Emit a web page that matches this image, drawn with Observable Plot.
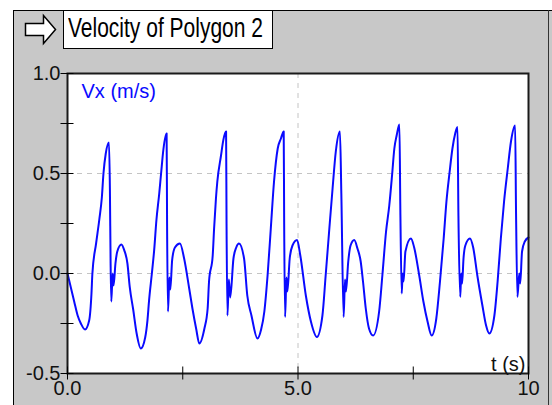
<!DOCTYPE html>
<html>
<head>
<meta charset="utf-8">
<script src="https://cdn.jsdelivr.net/npm/d3@7"></script>
<script src="https://cdn.jsdelivr.net/npm/@observablehq/plot@0.6"></script>
<style>
  html, body { margin: 0; padding: 0; background: #ffffff; }
  #wrap { position: relative; width: 552px; height: 405px; overflow: hidden; font-family: "Liberation Sans", Arial, sans-serif; }
  #panel { position: absolute; left: 13px; top: 10px; width: 539px; height: 400px; background: #c8c8c8;
           border-left: 1px solid #000; border-top: 1px solid #000; box-sizing: border-box; }
  #rline { position: absolute; left: 548px; top: 10px; width: 1px; height: 400px; background: #333; }
  #chart { position: absolute; left: 0; top: 0; }
  #title { position: absolute; left: 63px; top: 10px; width: 210px; height: 39px; box-sizing: border-box;
           background: #fff; border: 1px solid #000; font-size: 21px; line-height: 36px; padding-left: 4px;
           color: #000; white-space: nowrap; }
  #title span { display: inline-block; transform: scaleY(1.28); transform-origin: 50% 55%; }
  #icon { position: absolute; left: 0; top: 0; }
</style>
</head>
<body>
<div id="wrap">
  <div id="panel"></div>
  <div id="rline"></div>
  <div id="chart"></div>
  <svg id="icon" width="62" height="50">
    <polygon points="25.5,23.5 43.5,23.5 43.5,15.5 55.5,29.5 43.5,43.5 43.5,35.5 25.5,35.5" fill="#fff" stroke="#000" stroke-width="1.5"/>
  </svg>
  <div id="title"><span>Velocity of Polygon 2</span></div>
</div>
<script>
// Time samples (s)
const time = [
  0.00, 0.145, 0.22, 0.29, 0.38, 0.47, 0.52, 0.54, 0.62, 0.69, 0.745, 0.78, 0.83, 0.90,
  0.92, 0.935, 0.95, 0.98, 1.00, 1.04, 1.08, 1.17, 1.23, 1.30, 1.35, 1.425, 1.50, 1.59,
  1.685, 1.735, 1.77, 1.83, 1.88, 1.93, 1.99, 2.03, 2.08, 2.15,
  2.16, 2.18, 2.21, 2.23, 2.27, 2.33, 2.44, 2.53, 2.64, 2.71, 2.79, 2.86,
  2.97, 3.04, 3.07, 3.15, 3.18, 3.22, 3.25, 3.33, 3.38, 3.44,
  3.45, 3.47, 3.50, 3.53, 3.60, 3.66, 3.72, 3.83, 3.90, 3.99, 4.12,
  4.20, 4.27, 4.34, 4.41, 4.48, 4.56, 4.63, 4.69,
  4.70, 4.72, 4.75, 4.77, 4.82, 4.88, 4.98, 5.05, 5.17, 5.28, 5.41,
  5.53, 5.60, 5.68, 5.75, 5.82, 5.91,
  5.94, 5.99, 6.02, 6.04, 6.09, 6.14, 6.22, 6.29, 6.36, 6.41, 6.47, 6.54, 6.63,
  6.76, 6.83, 6.91, 6.98, 7.04, 7.09, 7.14, 7.20,
  7.22, 7.25, 7.27, 7.29, 7.33, 7.45, 7.52, 7.63, 7.72, 7.81, 7.90,
  8.00, 8.08, 8.16, 8.22, 8.29, 8.35, 8.41, 8.46,
  8.48, 8.52, 8.54, 8.56, 8.59, 8.63, 8.73, 8.80, 8.89, 9.00, 9.08, 9.15,
  9.26, 9.33, 9.40, 9.47, 9.55, 9.62, 9.71,
  9.73, 9.76, 9.80, 9.82, 9.86, 9.92, 10.00
];
// Vx (m/s) at those times
const vx = [
  0.00, -0.14, -0.21, -0.25, -0.28, -0.235, -0.10, 0.00, 0.15, 0.27, 0.38, 0.50, 0.60, 0.655,
  0.42, 0.05, -0.14, 0.00, -0.06, 0.05, 0.11, 0.145, 0.117, 0.05, -0.067, -0.18, -0.30, -0.375,
  -0.32, -0.233, -0.133, 0.00, 0.117, 0.27, 0.40, 0.50, 0.62, 0.70,
  0.25, -0.19, -0.02, -0.08, 0.067, 0.13, 0.15, 0.075, -0.075, -0.175, -0.275, -0.35,
  -0.275, -0.175, -0.04, 0.09, 0.225, 0.375, 0.46, 0.59, 0.667, 0.71,
  0.25, -0.21, -0.03, -0.12, 0.075, 0.13, 0.15, 0.075, -0.11, -0.21, -0.325,
  -0.28, -0.19, -0.01, 0.225, 0.46, 0.625, 0.675, 0.71,
  0.25, -0.217, -0.02, -0.09, 0.075, 0.14, 0.167, 0.09, -0.11, -0.24, -0.317,
  -0.21, -0.01, 0.225, 0.425, 0.61, 0.71,
  0.40, -0.217, -0.03, -0.09, 0.06, 0.14, 0.167, 0.125, 0.06, -0.04, -0.175, -0.275, -0.31,
  -0.19, -0.01, 0.21, 0.34, 0.49, 0.625, 0.69, 0.745,
  0.317, -0.10, 0.00, -0.04, 0.11, 0.175, 0.13, -0.01, -0.14, -0.24, -0.31,
  -0.225, -0.04, 0.175, 0.36, 0.51, 0.625, 0.70, 0.733,
  0.29, -0.117, 0.00, -0.05, 0.075, 0.14, 0.175, 0.13, -0.01, -0.16, -0.26, -0.30,
  -0.21, -0.04, 0.175, 0.36, 0.525, 0.66, 0.74,
  0.30, -0.117, 0.00, -0.05, 0.11, 0.16, 0.18
];

const yTicks = [-0.5, -0.25, 0, 0.25, 0.5, 0.75, 1.0];
const yLabelTicks = [-0.5, 0, 0.5, 1.0];
const yLabels = ["-0.5", "0.0", "0.5", "1.0"];
const xTicks = [0, 2.5, 5, 7.5, 10];
const xLabelTicks = [0, 5, 10];
const xLabels = ["0.0", "5.0", "10"];
const yGrid = [0, 0.5];
const xGrid = [5];
const seriesLabel = "Vx (m/s)";
const axisLabel = "t (s)";

const data = time.map((t, i) => ({t, v: vx[i]}));

const chart = Plot.plot({
  width: 552,
  height: 405,
  marginLeft: 67,
  marginRight: 24,
  marginTop: 73,
  marginBottom: 32,
  style: {background: "transparent", fontFamily: "'Liberation Sans', Arial, sans-serif", fontSize: "20px", color: "#111", overflow: "visible"},
  x: {domain: [0, 10]},
  y: {domain: [-0.5, 1.0]},
  marks: [
    Plot.frame({fill: "#ffffff"}),
    Plot.gridY(yGrid, {stroke: "#c4c4c4", strokeOpacity: 1, strokeDasharray: "5,5"}),
    Plot.gridX(xGrid, {stroke: "#c4c4c4", strokeOpacity: 1, strokeDasharray: "5,5"}),
    Plot.line(data, {x: "t", y: "v", stroke: "#0a0aff", strokeWidth: 2, curve: "monotone-x"}),
    Plot.frame({stroke: "#1a1a1a", strokeWidth: 2}),
    Plot.axisY({ticks: yTicks, tickSize: 13, dx: 6.5, tickFormat: () => "", label: null, stroke: "#000", strokeOpacity: 1}),
    Plot.axisY({ticks: yLabelTicks, tickSize: 0, tickPadding: 7, tickFormat: (d) => yLabels[yLabelTicks.indexOf(d)], label: null, fill: "#111", fontSize: 20}),
    Plot.axisX({ticks: xTicks, tickSize: 13, dy: -6.5, tickFormat: () => "", label: null, stroke: "#000", strokeOpacity: 1}),
    Plot.axisX({ticks: xLabelTicks, tickSize: 0, tickPadding: 7, tickFormat: (d) => xLabels[xLabelTicks.indexOf(d)], label: null, fill: "#111", fontSize: 20}),
    Plot.text([seriesLabel], {frameAnchor: "top-left", dx: 14, dy: 10, textAnchor: "start", lineAnchor: "top", fill: "#0a0aff", fontSize: 20}),
    Plot.text([axisLabel], {frameAnchor: "bottom-right", dx: -3, dy: -3, textAnchor: "end", lineAnchor: "bottom", fill: "#111", fontSize: 20})
  ]
});
document.getElementById("chart").appendChild(chart);
</script>
</body>
</html>
